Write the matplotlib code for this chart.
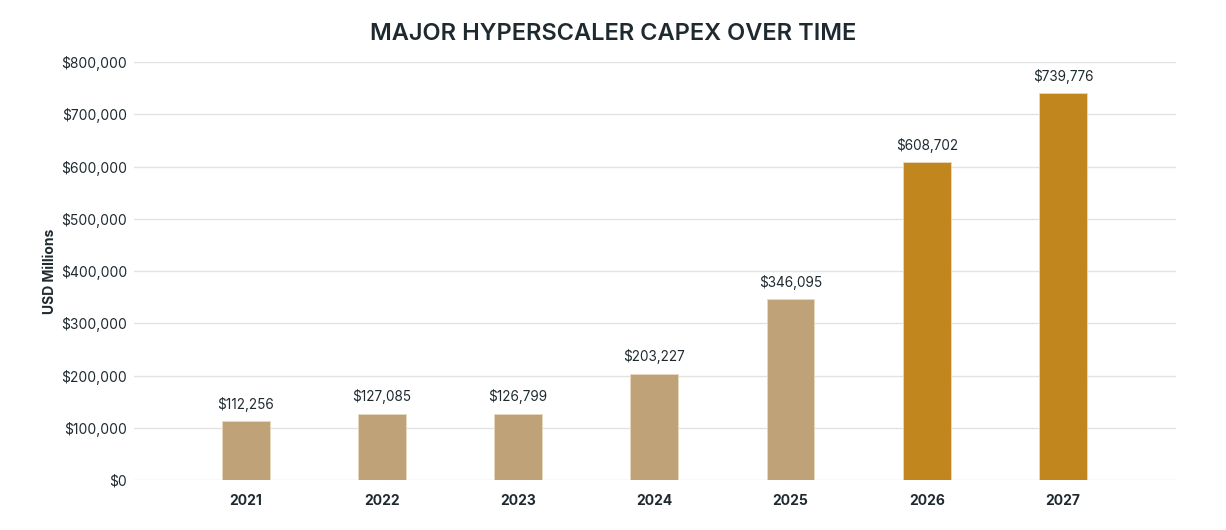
import matplotlib
matplotlib.use("Agg")
import matplotlib.pyplot as plt
from matplotlib.ticker import FuncFormatter

years = ["2021", "2022", "2023", "2024", "2025", "2026", "2027"]
capex = [112256, 127085, 126799, 203227, 346095, 608702, 739776]
bar_colors = ["#c0a279"] * 5 + ["#c2861e"] * 2
yticks = [0, 100000, 200000, 300000, 400000, 500000, 600000, 700000, 800000]

plt.rcParams["font.family"] = ["Inter", "DejaVu Sans"]
TXT = "#1f2a30"

fig = plt.figure(figsize=(12.26, 5.3), dpi=100)
ax = fig.add_axes([0.1093, 0.0943, 0.8499, 0.7887])

x = range(len(years))
bars = ax.bar(x, capex, width=0.35, color=bar_colors, edgecolor="#e8d9c0", linewidth=0.6, zorder=3)
for b, v in zip(bars, capex):
    ax.text(b.get_x() + b.get_width() / 2, v + 18000, f"${v:,}", ha="center", va="bottom",
            fontsize=9.8, color=TXT)

ax.set_xlim(-0.82, 6.83)
ax.set_ylim(0, 800000)
ax.set_yticks(yticks)
ax.yaxis.set_major_formatter(FuncFormatter(lambda v, _: f"${v:,.0f}"))
ax.set_xticks(list(x))
ax.set_xticklabels(years, fontweight="bold")
ax.tick_params(axis="both", length=0, labelsize=10, colors=TXT)
ax.tick_params(axis="x", pad=10)
ax.tick_params(axis="y", pad=5)
ax.grid(axis="y", color="#e2e2de", lw=1, zorder=0)
for s in ax.spines.values():
    s.set_visible(False)
ax.set_ylabel("USD Millions", fontsize=10, fontweight="bold", color=TXT, labelpad=3)
fig.text(0.5, 0.935, "MAJOR HYPERSCALER CAPEX OVER TIME", ha="center", va="center",
         fontsize=17, fontweight="semibold", color=TXT)

fig.savefig("out.png", dpi=100)
